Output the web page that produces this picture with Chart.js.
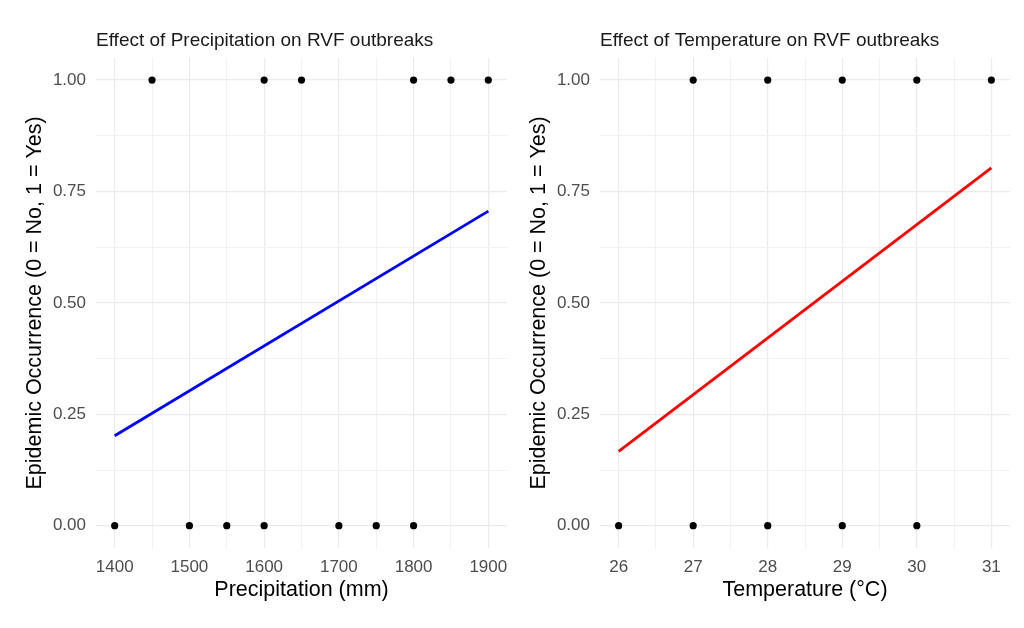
<!DOCTYPE html>
<html>
<head>
<meta charset="utf-8">
<title>RVF outbreaks</title>
<script src="https://cdn.jsdelivr.net/npm/chart.js@4.4.1/dist/chart.umd.min.js"></script>
<style>
  html, body { margin: 0; padding: 0; background: #fff; }
  #wrap { position: relative; width: 1024px; height: 628px; overflow: hidden; }
  canvas { position: absolute; top: 0; }
  #precipChart { left: 0; }
  #tempChart { left: 510px; }
</style>
</head>
<body>
<div id="wrap">
  <canvas id="precipChart" width="530" height="628"></canvas>
  <canvas id="tempChart" width="514" height="628"></canvas>
</div>
<script>
// observed outbreaks (0 = No, 1 = Yes)
const precipX = [1400, 1450, 1500, 1550, 1600, 1600, 1650, 1700, 1750, 1800, 1800, 1850, 1900];
const precipY = [0, 1, 0, 0, 0, 1, 1, 0, 0, 0, 1, 1, 1];
const tempX = [26, 27, 27, 28, 28, 29, 29, 30, 30, 31];
const tempY = [0, 0, 1, 0, 1, 0, 1, 0, 1, 1];

// fitted lines (read at the ends of the range)
const precipFitX = [1400, 1900];
const precipFitY = [0.202, 0.706];
const tempFitX = [26, 31];
const tempFitY = [0.167, 0.803];

// axis ticks, majors carry labels, minors only grid
const precipTicks = [1400, 1450, 1500, 1550, 1600, 1650, 1700, 1750, 1800, 1850, 1900];
const precipMajor = [1400, 1500, 1600, 1700, 1800, 1900];
const tempTicks = [26, 26.5, 27, 27.5, 28, 28.5, 29, 29.5, 30, 30.5, 31];
const tempMajor = [26, 27, 28, 29, 30, 31];
const yTicks = [0, 0.125, 0.25, 0.375, 0.5, 0.625, 0.75, 0.875, 1];
const yMajor = [0, 0.25, 0.5, 0.75, 1];

const FONT = "'Liberation Sans', Arial, sans-serif";

const makePanel = (id, p) => {
  const isMajor = (list, v) => list.some((m) => Math.abs(m - v) < 1e-9);
  const pts = p.x.map((x, i) => ({ x, y: p.y[i] }));
  const fit = p.fitX.map((x, i) => ({ x, y: p.fitY[i] }));
  const xPad = (p.ticks[p.ticks.length - 1] - p.ticks[0]) * 0.05;

  return new Chart(document.getElementById(id), {
    type: "scatter",
    data: {
      datasets: [
        {
          type: "line",
          data: fit,
          borderColor: p.color,
          borderWidth: 2.8,
          pointRadius: 0,
          fill: false,
        },
        {
          data: pts,
          backgroundColor: "#000",
          borderWidth: 0,
          pointRadius: 3.6,
        },
      ],
    },
    options: {
      responsive: false,
      animation: false,
      layout: { padding: { left: 0, right: p.padRight, top: 0, bottom: 0 } },
      plugins: {
        legend: { display: false },
        tooltip: { enabled: false },
        title: {
          display: true,
          text: p.title,
          align: "start",
          fullSize: false,
          color: "#1a1a1a",
          font: { family: FONT, size: 19, weight: "normal" },
          padding: { top: 29, bottom: 6 },
        },
      },
      scales: {
        x: {
          type: "linear",
          min: p.ticks[0] - xPad,
          max: p.ticks[p.ticks.length - 1] + xPad,
          afterBuildTicks: (s) => {
            s.ticks = p.ticks.map((v) => ({ value: v }));
          },
          afterFit: (s) => {
            s.height = 80;
            s.paddingLeft = 0;
            s.paddingRight = 0;
          },
          border: { display: false },
          grid: {
            drawTicks: false,
            color: (c) => (isMajor(p.major, c.tick.value) ? "#ebebeb" : "#f2f2f2"),
            lineWidth: (c) => (isMajor(p.major, c.tick.value) ? 1.2 : 1),
          },
          ticks: {
            autoSkip: false,
            maxRotation: 0,
            padding: 9,
            color: "#4d4d4d",
            font: { family: FONT, size: 17 },
            callback: (v) => (isMajor(p.major, v) ? String(v) : ""),
          },
          title: {
            display: true,
            text: p.xTitle,
            color: "#000",
            font: { family: FONT, size: 21.5 },
            padding: { top: 0, bottom: 25 },
          },
        },
        y: {
          type: "linear",
          min: -0.05,
          max: 1.05,
          afterBuildTicks: (s) => {
            s.ticks = yTicks.map((v) => ({ value: v }));
          },
          afterFit: (s) => {
            s.width = p.yWidth;
          },
          border: { display: false },
          grid: {
            drawTicks: false,
            color: (c) => (isMajor(yMajor, c.tick.value) ? "#ebebeb" : "#f2f2f2"),
            lineWidth: (c) => (isMajor(yMajor, c.tick.value) ? 1.2 : 1),
          },
          ticks: {
            autoSkip: false,
            padding: 10,
            color: "#4d4d4d",
            font: { family: FONT, size: 17 },
            callback: (v) => (isMajor(yMajor, v) ? v.toFixed(2) : ""),
          },
          title: {
            display: true,
            text: "Epidemic Occurrence (0 = No, 1 = Yes)",
            color: "#000",
            font: { family: FONT, size: 21.5 },
            padding: { top: p.yTitlePad, bottom: 0 },
          },
        },
      },
    },
  });
};

makePanel("precipChart", {
  title: "Effect of Precipitation on RVF outbreaks",
  xTitle: "Precipitation (mm)",
  x: precipX,
  y: precipY,
  fitX: precipFitX,
  fitY: precipFitY,
  ticks: precipTicks,
  major: precipMajor,
  color: "#0000ff",
  yWidth: 96,
  padRight: 23,
  yTitlePad: 22,
});

makePanel("tempChart", {
  title: "Effect of Temperature on RVF outbreaks",
  xTitle: "Temperature (°C)",
  x: tempX,
  y: tempY,
  fitX: tempFitX,
  fitY: tempFitY,
  ticks: tempTicks,
  major: tempMajor,
  color: "#ff0000",
  yWidth: 90,
  padRight: 14,
  yTitlePad: 16,
});
</script>
</body>
</html>
